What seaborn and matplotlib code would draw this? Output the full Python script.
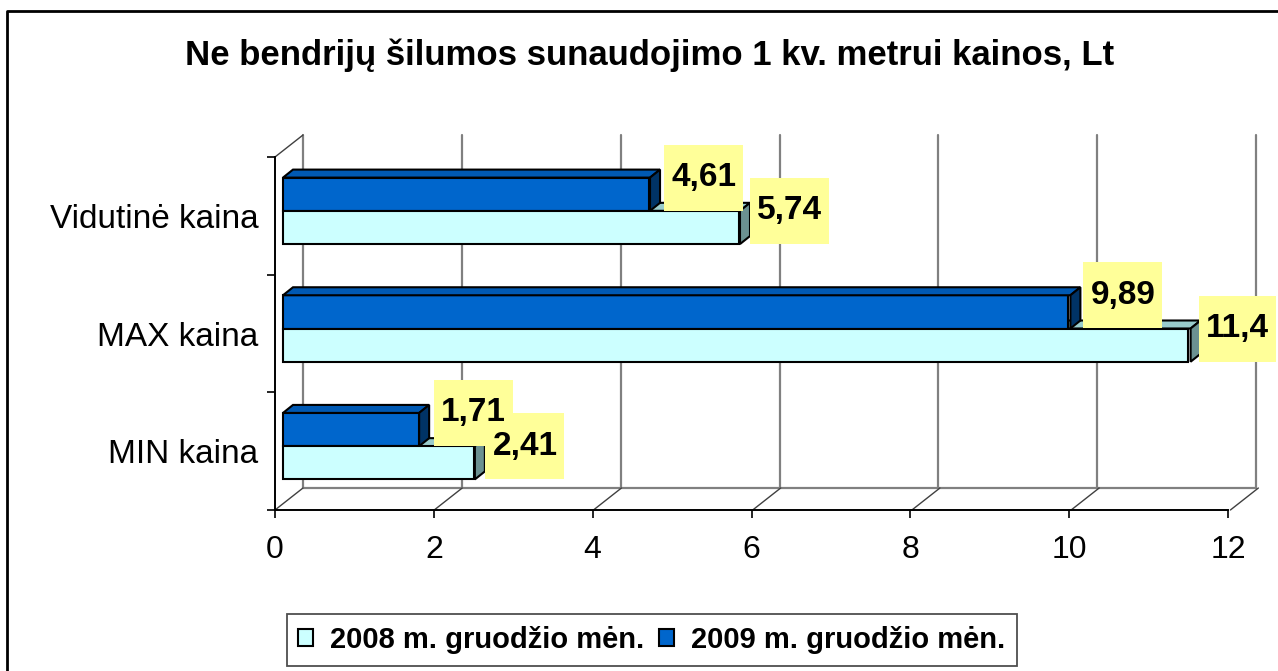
import pandas as pd
import seaborn as sns
import matplotlib.pyplot as plt
from matplotlib.patches import Polygon, Patch, Rectangle
from matplotlib.lines import Line2D
from matplotlib.transforms import ScaledTranslation, IdentityTransform

# duomenys
categories = ['Vidutinė kaina', 'MAX kaina', 'MIN kaina']
series_names = ['2008 m. gruodžio mėn.', '2009 m. gruodžio mėn.']
values_2008 = [5.74, 11.4, 2.41]
values_2009 = [4.61, 9.89, 1.71]
labels_2008 = ['5,74', '11,4', '2,41']
labels_2009 = ['4,61', '9,89', '1,71']
x_ticks = [0, 2, 4, 6, 8, 10, 12]
title = 'Ne bendrijų šilumos sunaudojimo 1 kv. metrui kainos, Lt'

df = pd.DataFrame({
    'kaina': categories * 2,
    'reiksme': values_2008 + values_2009,
    'metai': [series_names[0]] * 3 + [series_names[1]] * 3,
})

sns.set_theme(style='white')
plt.rcParams['font.family'] = ['Liberation Sans', 'DejaVu Sans']
plt.rcParams['text.color'] = 'black'
plt.rcParams['xtick.color'] = 'black'
plt.rcParams['ytick.color'] = 'black'

W, H, DPI = 1278, 671, 100
fig = plt.figure(figsize=(W / DPI, H / DPI), dpi=DPI)


def fx(px):
    return px / W


def fy(py):
    return 1 - py / H


ax = fig.add_axes([fx(275), fy(510), fx(1228) - fx(275), fy(157) - fy(510)])

front = {series_names[0]: '#CCFFFF', series_names[1]: '#0066CC'}
top = {series_names[0]: '#99CCCC', series_names[1]: '#0059B3'}
side = {series_names[0]: '#6B9191', series_names[1]: '#003366'}
hue_order = [series_names[1], series_names[0]]  # 2009 virsuje

sns.barplot(data=df, y='kaina', x='reiksme', hue='metai', order=categories,
            hue_order=hue_order, palette=front, saturation=1, orient='h',
            width=0.565, edgecolor='black', linewidth=1.5, legend=False, ax=ax)

# 3D efektas (pikseliais)
WALL_DX, WALL_DY = 28, 22
BAR_DX, BAR_DY = 8, 5
DEPTH_DX, DEPTH_DY = 10, 8
wall_off = ScaledTranslation(WALL_DX / DPI, WALL_DY / DPI, fig.dpi_scale_trans)
bar_off = ScaledTranslation(BAR_DX / DPI, BAR_DY / DPI, fig.dpi_scale_trans)

xtr = ax.get_xaxis_transform()
grid_c = '#808080'
for t in x_ticks:
    ax.plot([t, t], [0, 1], transform=xtr + wall_off, color=grid_c, lw=1.6,
            clip_on=False, zorder=0.5)
ax.plot([0, 12], [0, 0], transform=xtr + wall_off, color=grid_c, lw=1.6,
        clip_on=False, zorder=0.5)

# grindu ir kaires sienos istrizaines
ident = IdentityTransform()
diag_pts = [(t, 0) for t in x_ticks] + [(0, 1)]
for p in diag_pts:
    x0, y0 = xtr.transform(p)
    ln = Line2D([x0, x0 + WALL_DX], [y0, y0 + WALL_DY], transform=ident,
                color='#404040', lw=1.0, clip_on=False, zorder=0.6)
    ax.add_line(ln)

bar_tr = ax.transData + bar_off
label_map = {series_names[0]: labels_2008, series_names[1]: labels_2009}
zbase = {series_names[0]: 2, series_names[1]: 3.5}
gap = {series_names[0]: 8, series_names[1]: 12}
value_texts = []
for name, cont in zip(hue_order, ax.containers):
    lab_off = ScaledTranslation((BAR_DX + DEPTH_DX + gap[name]) / DPI, BAR_DY / DPI,
                                fig.dpi_scale_trans)
    for i, rect in enumerate(cont):
        rect.set_transform(bar_tr)
        rect.set_zorder(3)
        rect.set_clip_on(False)
        x0, y0 = rect.get_x(), rect.get_y()
        x1, y1 = x0 + rect.get_width(), y0 + rect.get_height()
        (dl, da), (dr, db) = bar_tr.transform([(x0, y0), (x1, y1)])
        yt, yb = max(da, db), min(da, db)
        top_face = Polygon([(dl, yt), (dr, yt), (dr + DEPTH_DX, yt + DEPTH_DY),
                            (dl + DEPTH_DX, yt + DEPTH_DY)], closed=True,
                           transform=ident, facecolor=top[name], edgecolor='black',
                           lw=1.5, zorder=zbase[name], clip_on=False)
        side_face = Polygon([(dr, yb), (dr, yt), (dr + DEPTH_DX, yt + DEPTH_DY),
                             (dr + DEPTH_DX, yb + DEPTH_DY)], closed=True,
                            transform=ident, facecolor=side[name], edgecolor='black',
                            lw=1.5, zorder=zbase[name], clip_on=False)
        ax.add_patch(top_face)
        ax.add_patch(side_face)
        # reiksmes etikete
        txt = ax.text(x1, min(y0, y1), label_map[name][i],
                      transform=ax.transData + lab_off, ha='left', va='center',
                      fontsize=24, fontweight='bold', zorder=6, clip_on=False)
        anchor_y = (ax.transData + lab_off).transform((x1, min(y0, y1)))[1]
        value_texts.append((txt, anchor_y))

ax.set_xlim(0, 12)
ax.set_ylim(2.5, -0.5)
ax.set_xticks(x_ticks)
ax.set_xticklabels([str(t) for t in x_ticks])
ax.set_yticks(range(len(categories)))
ax.set_yticklabels(categories)
ax.set_yticks([-0.5, 0.5, 1.5, 2.5], minor=True)
ax.set_xlabel('')
ax.set_ylabel('')
ax.tick_params(axis='x', which='major', direction='out', length=6, width=1.2,
               color='black', labelsize=23, pad=12, bottom=True)
ax.tick_params(axis='y', which='major', length=0, labelsize=24, pad=12, left=False)
ax.tick_params(axis='y', which='minor', direction='out', length=6, width=1.2,
               color='black', left=True)
for s in ['top', 'right']:
    ax.spines[s].set_visible(False)
for s in ['left', 'bottom']:
    ax.spines[s].set_color('black')
    ax.spines[s].set_linewidth(1.4)
ax.patch.set_alpha(0)

fig.text(fx(650), fy(55), title, ha='center', va='center', fontsize=25,
         fontweight='bold')

handles = [Patch(facecolor=front[n], edgecolor='black', lw=1.5, label=n)
           for n in series_names]
leg = fig.legend(handles=handles, loc='center', bbox_to_anchor=(fx(652), fy(640)),
                 ncol=2, frameon=True, fancybox=False, edgecolor='#222222',
                 prop={'weight': 'bold', 'size': 21}, handlelength=0.5,
                 handleheight=0.5, handletextpad=0.6, columnspacing=0.5,
                 borderpad=0.4, borderaxespad=0)
leg.get_frame().set_linewidth(1.3)

fig.add_artist(Line2D([fx(7), fx(7), fx(W + 5)], [fy(H + 5), fy(11), fy(11)],
                      transform=fig.transFigure, color='black', lw=2))

# geltoni etikeciu fonai pagal teksto dydi
fig.canvas.draw()
renderer = fig.canvas.get_renderer()
for txt, yc in value_texts:
    bb = txt.get_window_extent(renderer)
    ax.add_patch(Rectangle((bb.x0 - 7, yc - 33), bb.width + 14, 66, transform=ident,
                           facecolor='#FFFF99', edgecolor='none', zorder=5.5,
                           clip_on=False))

fig.savefig('out.png', dpi=DPI)
